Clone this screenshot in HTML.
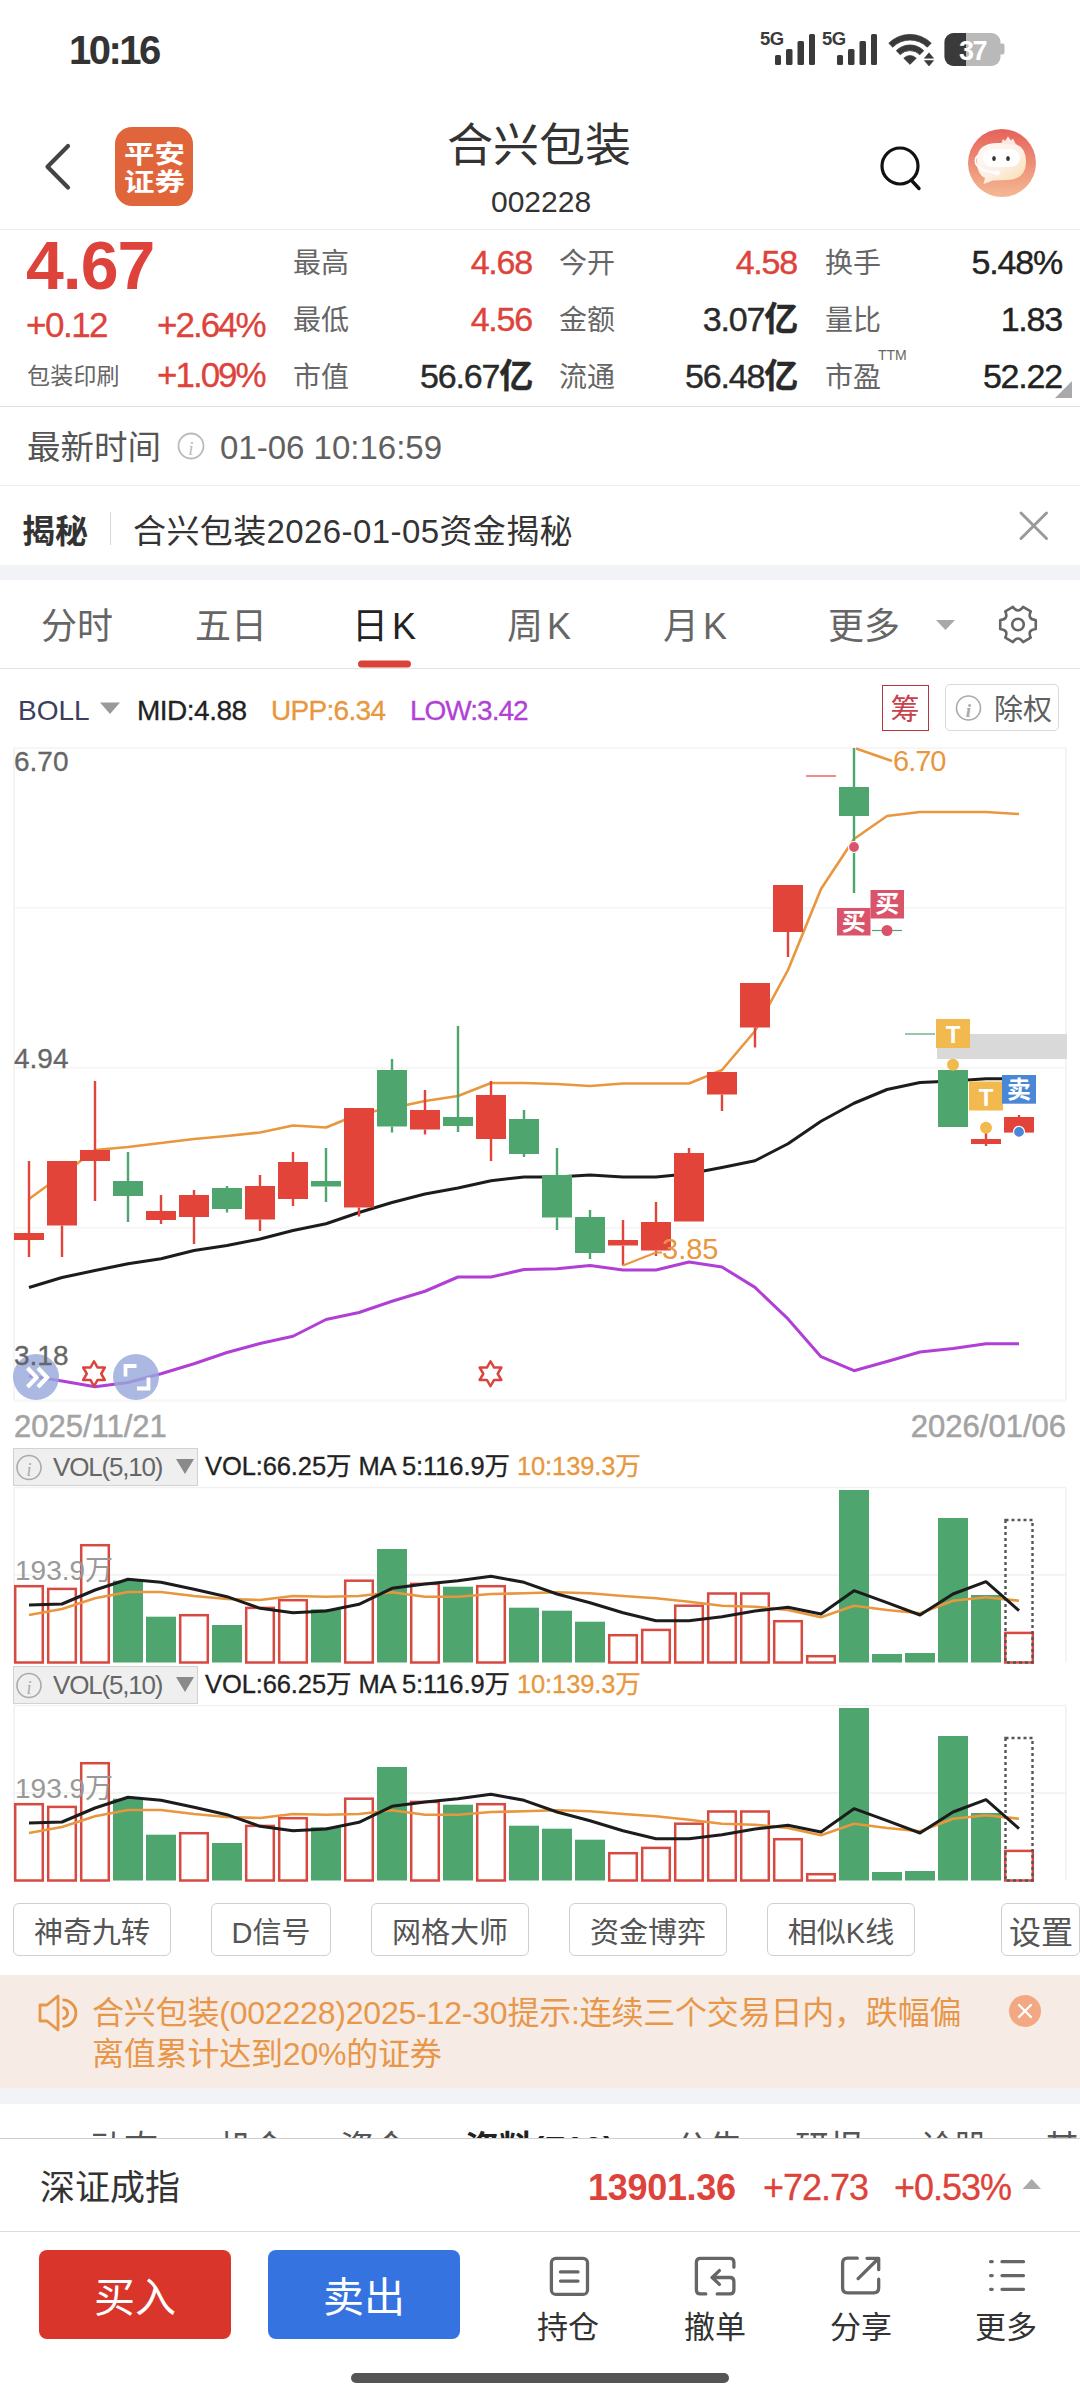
<!DOCTYPE html>
<html><head><meta charset="utf-8">
<style>
*{margin:0;padding:0;box-sizing:border-box}
html,body{width:1080px;height:2400px;overflow:hidden;background:#fff}
body{font-family:"Liberation Sans","Noto Sans CJK SC",sans-serif;color:#333;position:relative}
.t{position:absolute;white-space:nowrap;line-height:1}
.r{color:#de433b}
.g6{color:#666}
.v{letter-spacing:-1.2px;-webkit-text-stroke:0.4px currentColor}
.hl{position:absolute;left:0;width:1080px;height:1.5px;background:#e6e6e6}
svg{position:absolute;left:0;top:0}
.btn{position:absolute;top:1903px;height:53px;border:1.5px solid #cfcfcf;border-radius:6px;font-size:29px;color:#555;display:flex;align-items:center;justify-content:center;background:#fff}
</style></head><body>
<!-- status bar -->
<div class="t" style="left:69px;top:30px;font-size:40px;font-weight:bold;color:#333;letter-spacing:-2.5px">10:16</div>
<svg width="1080" height="100" style="top:0">
 <g fill="#3a3a3a">
  <text x="760" y="44.5" font-size="18.5" font-weight="bold" font-family="Liberation Sans" letter-spacing="-0.5">5G</text>
  <rect x="775" y="55" width="6" height="10" rx="1.5"/><rect x="786" y="49" width="6.5" height="16" rx="1.5"/><rect x="797.5" y="41" width="6.5" height="24" rx="1.5"/><rect x="809" y="34" width="6" height="31" rx="1.5"/>
  <text x="822" y="44.5" font-size="18.5" font-weight="bold" font-family="Liberation Sans" letter-spacing="-0.5">5G</text>
  <rect x="837" y="55" width="6" height="10" rx="1.5"/><rect x="848" y="49" width="6.5" height="16" rx="1.5"/><rect x="859.5" y="41" width="6.5" height="24" rx="1.5"/><rect x="871" y="34" width="6" height="31" rx="1.5"/>
 </g>
 <path d="M888.79,43.19 A30 30 0 0 1 931.21,43.19 L927.25,47.15 A24.4 24.4 0 0 0 892.75,47.15 Z M896.28,50.68 A19.4 19.4 0 0 1 923.72,50.68 L919.76,54.64 A13.8 13.8 0 0 0 900.24,54.64 Z M910,64.4 L903.78,58.18 A8.8 8.8 0 0 1 916.22,58.18 Z" fill="#3a3a3a" stroke="#3a3a3a" stroke-width="0.8" stroke-linejoin="round"/>
 <path d="M929 52.8 L933.6 58.2 L924.4 58.2Z M924.4 60.6 L933.6 60.6 L929 66Z" fill="#3a3a3a" stroke="#3a3a3a" stroke-width="0.6" stroke-linejoin="round"/>
 <rect x="944.5" y="33" width="56" height="33" rx="9" fill="#b9b9b9"/>
 <path d="M953.5 33 H966 V66 H953.5 A9 9 0 0 1 944.5 57 V42 A9 9 0 0 1 953.5 33Z" fill="#3a3a3a"/>
 <rect x="999" y="43.5" width="5.5" height="11" rx="2" fill="#b9b9b9"/>
 <text x="972.5" y="59.5" font-size="27" font-weight="bold" fill="#fff" text-anchor="middle" font-family="Liberation Sans" letter-spacing="-1.5">37</text>
</svg>
<!-- header -->
<svg width="1080" height="240" style="top:0">
 <path d="M68 146 L47.5 166.7 L68 187.5" fill="none" stroke="#444" stroke-width="4.2" stroke-linecap="round" stroke-linejoin="round"/>
 <rect x="115" y="127" width="78" height="79" rx="17" fill="#e0653b"/>
 <circle cx="900" cy="166" r="18" fill="none" stroke="#111" stroke-width="3.2"/>
 <path d="M912.5 181.5 L919 188.5" stroke="#111" stroke-width="3.4" stroke-linecap="round"/>
 <defs><linearGradient id="av" x1="0" y1="0" x2="0" y2="1"><stop offset="0" stop-color="#e6625a"/><stop offset="1" stop-color="#f4b993"/></linearGradient>
 <linearGradient id="face" x1="0" y1="0" x2="0.9" y2="1"><stop offset="0" stop-color="#fffaf6"/><stop offset="0.55" stop-color="#fdf0e6"/><stop offset="1" stop-color="#f8dfae"/></linearGradient></defs>
 <circle cx="1002" cy="163" r="34" fill="url(#av)"/>
 <path d="M977 162 Q976 143 998 143 L1010 143 Q1026 144 1026 162 Q1026 179 1008 180 L993 180.5 L983.5 184 L985 178 Q977 174 977 162Z" fill="url(#face)"/>
 <path d="M1001 144 l2 -5 l2 2 l3 -4.5 l3 4 l2 -2 l3 6z" fill="#fbe8e2"/>
 <rect x="983" y="149" width="37" height="18" rx="9" fill="#fff"/>
 <ellipse cx="994" cy="158.5" rx="1.8" ry="2.6" fill="#333"/><ellipse cx="1008" cy="158.5" rx="1.8" ry="2.6" fill="#333"/>
 <path d="M978.5 155 Q974 158 976 164 Q980 171 996 173" fill="none" stroke="#fff" stroke-width="1.8"/><ellipse cx="997" cy="173" rx="3" ry="2.2" fill="#fff"/>
</svg>
<div class="t" style="left:123.5px;top:139.5px;font-size:25px;font-weight:bold;color:#fff;line-height:28px;transform:scaleX(1.22);transform-origin:0 0">平安<br>证券</div>
<div class="t" style="left:447px;top:122px;font-size:46px;color:#333">合兴包装</div>
<div class="t" style="left:491px;top:187px;font-size:30px;color:#333">002228</div>
<div class="hl" style="top:228.5px;background:#ececec"></div>
<!-- quote -->
<div class="t r" style="left:26px;top:231px;font-size:68px;font-weight:bold;letter-spacing:-1px">4.67</div>
<div class="t r" style="-webkit-text-stroke:0.3px #de433b;left:26px;top:307px;font-size:35px;letter-spacing:-1.5px">+0.12</div>
<div class="t r" style="-webkit-text-stroke:0.3px #de433b;left:157px;top:307px;font-size:35px;letter-spacing:-2px">+2.64%</div>
<div class="t g6" style="left:27px;top:365px;font-size:23px;letter-spacing:0.2px">包装印刷</div>
<div class="t r" style="-webkit-text-stroke:0.3px #de433b;left:157px;top:357px;font-size:35px;letter-spacing:-2px">+1.09%</div>

<div class="t g6" style="left:293px;top:250px;font-size:28px">最高</div>
<div class="t g6" style="left:293px;top:307px;font-size:28px">最低</div>
<div class="t g6" style="left:293px;top:364px;font-size:28px">市值</div>
<div class="t r v" style="right:548px;top:245px;font-size:34px">4.68</div>
<div class="t r v" style="right:548px;top:302px;font-size:34px">4.56</div>
<div class="t v" style="right:548px;top:359px;font-size:34px;color:#2a2a2a">56.67<b>亿</b></div>

<div class="t g6" style="left:559px;top:250px;font-size:28px">今开</div>
<div class="t g6" style="left:559px;top:307px;font-size:28px">金额</div>
<div class="t g6" style="left:559px;top:364px;font-size:28px">流通</div>
<div class="t r v" style="right:283px;top:245px;font-size:34px">4.58</div>
<div class="t v" style="right:283px;top:302px;font-size:34px;color:#2a2a2a">3.07<b>亿</b></div>
<div class="t v" style="right:283px;top:359px;font-size:34px;color:#2a2a2a">56.48<b>亿</b></div>

<div class="t g6" style="left:825px;top:250px;font-size:28px">换手</div>
<div class="t g6" style="left:825px;top:307px;font-size:28px">量比</div>
<div class="t g6" style="left:825px;top:364px;font-size:28px">市盈</div>
<div class="t g6" style="left:878px;top:348px;font-size:14px">TTM</div>
<div class="t v" style="right:18px;top:245px;font-size:34px;color:#222">5.48%</div>
<div class="t v" style="right:18px;top:302px;font-size:34px;color:#222">1.83</div>
<div class="t v" style="right:18px;top:359px;font-size:34px;color:#222">52.22</div>
<svg width="1080" height="410" style="top:0"><path d="M1055 398 L1072 381 L1072 398Z" fill="#a9a9a9"/></svg>
<div class="hl" style="top:405.5px;background:#e0e0e0"></div>

<!-- latest time -->
<div class="t" style="left:27px;top:431px;font-size:33.5px;color:#555">最新时间</div>
<svg width="1080" height="480" style="top:0">
 <circle cx="191" cy="446" r="12.5" fill="none" stroke="#bbb" stroke-width="1.8"/>
 <text x="191" y="455" font-size="19" font-style="italic" fill="#bbb" text-anchor="middle" font-family="Liberation Serif">i</text>
</svg>
<div class="t" style="left:220px;top:431px;font-size:33px;color:#606060;letter-spacing:0px">01-06 10:16:59</div>
<div class="hl" style="top:484.5px;background:#eeeeee"></div>

<!-- jiemi -->
<div class="t" style="left:22px;top:515px;font-size:33px;font-weight:bold;color:#333">揭秘</div>
<div style="position:absolute;left:109.5px;top:512px;width:1.5px;height:33px;background:#d6d6d6"></div>
<div class="t" style="left:133px;top:515px;font-size:33px;color:#333;letter-spacing:0.4px">合兴包装2026-01-05资金揭秘</div>
<svg width="1080" height="560" style="top:0"><path d="M1021 513 L1046.5 538.5 M1046.5 513 L1021 538.5" stroke="#9a9a9a" stroke-width="3" stroke-linecap="round"/></svg>
<div style="position:absolute;left:0;top:565px;width:1080px;height:15px;background:#f2f3f7"></div>

<!-- period tabs -->
<div class="t" style="left:41px;top:609px;font-size:36px;color:#666">分时</div>
<div class="t" style="left:195px;top:609px;font-size:36px;color:#666">五日</div>
<div class="t" style="left:352px;top:609px;font-size:36px;color:#222">日<span style="margin-left:4px">K</span></div>
<div class="t" style="left:507px;top:609px;font-size:36px;color:#666">周<span style="margin-left:4px">K</span></div>
<div class="t" style="left:663px;top:609px;font-size:36px;color:#666">月<span style="margin-left:4px">K</span></div>
<div class="t" style="left:828px;top:609px;font-size:36px;color:#666">更多</div>
<svg width="1080" height="680" style="top:0">
 <path d="M936 620 L955 620 L945.5 630Z" fill="#a8a8a8"/>
 <rect x="358" y="660.5" width="53" height="7" rx="3.5" fill="#d9433a"/>
 <g fill="none" stroke="#666" stroke-width="2.6" stroke-linejoin="round"><path d="M1023.04,606.91 L1030.71,611.34 Q1027.09,619.25 1035.76,620.07 L1035.76,620.07 L1035.76,628.93 Q1027.09,629.75 1030.71,637.66 L1030.71,637.66 L1023.04,642.09 Q1018.00,635.00 1012.96,642.09 L1012.96,642.09 L1005.29,637.66 Q1008.91,629.75 1000.24,628.93 L1000.24,628.93 L1000.24,620.07 Q1008.91,619.25 1005.29,611.34 L1005.29,611.34 L1012.96,606.91 Q1018.00,614.00 1023.04,606.91 Z"/><circle cx="1018" cy="624.5" r="5.8"/></g>
</svg>
<div class="hl" style="top:667.5px;background:#e2e2e2"></div>

<!-- BOLL header -->
<div class="t" style="left:18px;top:697px;font-size:28px;color:#3d3d5c">BOLL</div>
<svg width="1080" height="740" style="top:0"><path d="M100 702.5 L120 702.5 L110 714Z" fill="#9a9a9a"/></svg>
<div class="t" style="left:137px;top:697px;font-size:28px;color:#222;letter-spacing:-0.5px;-webkit-text-stroke:0.3px currentColor">MID:4.88</div>
<div class="t" style="left:271px;top:697px;font-size:28px;color:#e8973e;letter-spacing:-0.7px;-webkit-text-stroke:0.3px currentColor">UPP:6.34</div>
<div class="t" style="left:410px;top:697px;font-size:28px;color:#b23fd6;letter-spacing:-1px;-webkit-text-stroke:0.3px currentColor">LOW:3.42</div>
<div style="position:absolute;left:881.5px;top:685px;width:47.5px;height:46px;border:1.5px solid #b8343f"></div>
<div class="t" style="left:890.5px;top:696px;font-size:29px;color:#c8404a">筹</div>
<div style="position:absolute;left:945px;top:684px;width:113.5px;height:47px;border:1.5px solid #dadada;border-radius:5px"></div>
<svg width="1080" height="740" style="top:0">
 <circle cx="968.5" cy="708" r="12" fill="none" stroke="#aaa" stroke-width="1.6"/>
 <text x="968.5" y="716.5" font-size="19" font-style="italic" font-weight="bold" fill="#aaa" text-anchor="middle" font-family="Liberation Serif">i</text>
</svg>
<div class="t" style="left:994px;top:696px;font-size:29px;color:#606060">除权</div>
<svg width="1080" height="2400" style="top:0">
<line x1="14" y1="748" x2="1066" y2="748" stroke="#f6f6f6" stroke-width="2"/>
<line x1="14" y1="907.8" x2="1066" y2="907.8" stroke="#f6f6f6" stroke-width="2"/>
<line x1="14" y1="1067.8" x2="1066" y2="1067.8" stroke="#f6f6f6" stroke-width="2"/>
<line x1="14" y1="1227.8" x2="1066" y2="1227.8" stroke="#f6f6f6" stroke-width="2"/>
<line x1="14" y1="1400.5" x2="1066" y2="1400.5" stroke="#f6f6f6" stroke-width="2"/>
<line x1="14" y1="748" x2="14" y2="1400" stroke="#f1f1f1" stroke-width="1.5"/>
<line x1="1066" y1="748" x2="1066" y2="1400" stroke="#f1f1f1" stroke-width="1.5"/>
<rect x="937" y="1034" width="130" height="25" fill="#d9d9d9"/>
<polyline points="29,1199 62,1175 95,1150 128,1147 161,1143 194,1139 227,1136 260,1132.5 293,1125.5 326,1127.5 359,1114 392,1108 425,1101 458,1096 491,1083 524,1083 557,1084 590,1086 623,1083.5 656,1083.5 689,1083.5 722,1070 755,1031 788,970 821,889 854,839 887,816 920,812 953,812 986,812 1019,814" fill="none" stroke="#e8973e" stroke-width="2.6" stroke-linejoin="round"/>
<polyline points="29,1287.5 62,1277.5 95,1270.5 128,1263.75 161,1258.75 194,1250.5 227,1245.5 260,1239 293,1230.5 326,1223.75 359,1212.5 392,1202.5 425,1194 458,1188 491,1180.75 524,1177 557,1177 590,1175 623,1177 656,1177 689,1173.75 722,1167.5 755,1160.75 788,1143.75 821,1121.25 854,1103.25 887,1089.5 920,1082.5 953,1081 986,1078.7 1019,1078.7" fill="none" stroke="#1c1c1c" stroke-width="3" stroke-linejoin="round"/>
<polyline points="29,1376 62,1381 95,1386.75 128,1382.5 161,1373.75 194,1363.75 227,1352.5 260,1343.5 293,1336.25 326,1319.5 359,1312.5 392,1301.25 425,1291.25 458,1277 491,1277 524,1269.5 557,1268.75 590,1265.5 623,1270 656,1270 689,1262 722,1267 755,1287.4 788,1318.9 821,1356.7 854,1370.7 887,1361.5 920,1352 953,1348.5 986,1343.7 1019,1343.7" fill="none" stroke="#b13fd6" stroke-width="3" stroke-linejoin="round"/>
<rect x="27.8" y="1161" width="2.4" height="72" fill="#e2443a"/>
<rect x="27.8" y="1240" width="2.4" height="17" fill="#e2443a"/>
<rect x="14" y="1233" width="30" height="7" fill="#e2443a"/>
<rect x="60.8" y="1225.5" width="2.4" height="31.5" fill="#e2443a"/>
<rect x="47" y="1161" width="30" height="64.5" fill="#e2443a"/>
<rect x="93.8" y="1081" width="2.4" height="69" fill="#e2443a"/>
<rect x="93.8" y="1161" width="2.4" height="40" fill="#e2443a"/>
<rect x="80" y="1150" width="30" height="11" fill="#e2443a"/>
<rect x="126.8" y="1152" width="2.4" height="29" fill="#4ea56e"/>
<rect x="126.8" y="1196" width="2.4" height="26" fill="#4ea56e"/>
<rect x="113" y="1181" width="30" height="15" fill="#4ea56e"/>
<rect x="159.8" y="1195" width="2.4" height="16" fill="#e2443a"/>
<rect x="159.8" y="1220" width="2.4" height="4" fill="#e2443a"/>
<rect x="146" y="1211" width="30" height="9" fill="#e2443a"/>
<rect x="192.8" y="1190" width="2.4" height="5" fill="#e2443a"/>
<rect x="192.8" y="1217" width="2.4" height="27" fill="#e2443a"/>
<rect x="179" y="1195" width="30" height="22" fill="#e2443a"/>
<rect x="225.8" y="1186" width="2.4" height="2" fill="#4ea56e"/>
<rect x="225.8" y="1209" width="2.4" height="3.5" fill="#4ea56e"/>
<rect x="212" y="1188" width="30" height="21" fill="#4ea56e"/>
<rect x="258.8" y="1175" width="2.4" height="11" fill="#e2443a"/>
<rect x="258.8" y="1219.5" width="2.4" height="11.5" fill="#e2443a"/>
<rect x="245" y="1186" width="30" height="33.5" fill="#e2443a"/>
<rect x="291.8" y="1152" width="2.4" height="10" fill="#e2443a"/>
<rect x="291.8" y="1199" width="2.4" height="7" fill="#e2443a"/>
<rect x="278" y="1162" width="30" height="37" fill="#e2443a"/>
<rect x="324.8" y="1148" width="2.4" height="33" fill="#4ea56e"/>
<rect x="324.8" y="1186.5" width="2.4" height="15.5" fill="#4ea56e"/>
<rect x="311" y="1181" width="30" height="5.5" fill="#4ea56e"/>
<rect x="357.8" y="1207.5" width="2.4" height="9.0" fill="#e2443a"/>
<rect x="344" y="1108" width="30" height="99.5" fill="#e2443a"/>
<rect x="390.8" y="1059" width="2.4" height="11" fill="#4ea56e"/>
<rect x="390.8" y="1126.5" width="2.4" height="6.0" fill="#4ea56e"/>
<rect x="377" y="1070" width="30" height="56.5" fill="#4ea56e"/>
<rect x="423.8" y="1090" width="2.4" height="20" fill="#e2443a"/>
<rect x="423.8" y="1129.5" width="2.4" height="5.0" fill="#e2443a"/>
<rect x="410" y="1110" width="30" height="19.5" fill="#e2443a"/>
<rect x="456.8" y="1026" width="2.4" height="91" fill="#4ea56e"/>
<rect x="456.8" y="1126" width="2.4" height="6" fill="#4ea56e"/>
<rect x="443" y="1117" width="30" height="9" fill="#4ea56e"/>
<rect x="489.8" y="1081" width="2.4" height="14" fill="#e2443a"/>
<rect x="489.8" y="1139" width="2.4" height="22" fill="#e2443a"/>
<rect x="476" y="1095" width="30" height="44" fill="#e2443a"/>
<rect x="522.8" y="1110" width="2.4" height="9" fill="#4ea56e"/>
<rect x="522.8" y="1154" width="2.4" height="3" fill="#4ea56e"/>
<rect x="509" y="1119" width="30" height="35" fill="#4ea56e"/>
<rect x="555.8" y="1148" width="2.4" height="27" fill="#4ea56e"/>
<rect x="555.8" y="1217.5" width="2.4" height="12.5" fill="#4ea56e"/>
<rect x="542" y="1175" width="30" height="42.5" fill="#4ea56e"/>
<rect x="588.8" y="1210" width="2.4" height="7" fill="#4ea56e"/>
<rect x="588.8" y="1253" width="2.4" height="6" fill="#4ea56e"/>
<rect x="575" y="1217" width="30" height="36" fill="#4ea56e"/>
<rect x="621.8" y="1220" width="2.4" height="20" fill="#e2443a"/>
<rect x="621.8" y="1245.5" width="2.4" height="20.0" fill="#e2443a"/>
<rect x="608" y="1240" width="30" height="5.5" fill="#e2443a"/>
<rect x="654.8" y="1202" width="2.4" height="20" fill="#e2443a"/>
<rect x="654.8" y="1250.5" width="2.4" height="5.5" fill="#e2443a"/>
<rect x="641" y="1222" width="30" height="28.5" fill="#e2443a"/>
<rect x="687.8" y="1148" width="2.4" height="5" fill="#e2443a"/>
<rect x="674" y="1153" width="30" height="68.5" fill="#e2443a"/>
<rect x="720.8" y="1094.5" width="2.4" height="16.5" fill="#e2443a"/>
<rect x="707" y="1072" width="30" height="22.5" fill="#e2443a"/>
<rect x="753.8" y="1027.5" width="2.4" height="20.0" fill="#e2443a"/>
<rect x="740" y="983" width="30" height="44.5" fill="#e2443a"/>
<rect x="786.8" y="932" width="2.4" height="25" fill="#e2443a"/>
<rect x="773" y="885" width="30" height="47" fill="#e2443a"/>
<rect x="806" y="775.4" width="30" height="1.2" fill="#e2443a"/>
<rect x="852.8" y="748" width="2.4" height="39" fill="#4ea56e"/>
<rect x="852.8" y="816" width="2.4" height="77" fill="#4ea56e"/>
<rect x="839" y="787" width="30" height="29" fill="#4ea56e"/>
<rect x="872" y="929.9" width="30" height="1.2" fill="#4ea56e"/>
<rect x="905" y="1033.4" width="30" height="1.2" fill="#4ea56e"/>
<rect x="938" y="1070" width="30" height="57" fill="#4ea56e"/>
<rect x="984.8" y="1130" width="2.4" height="9" fill="#e2443a"/>
<rect x="984.8" y="1144" width="2.4" height="2" fill="#e2443a"/>
<rect x="971" y="1139" width="30" height="5" fill="#e2443a"/>
<rect x="1017.8" y="1115" width="2.4" height="2" fill="#e2443a"/>
<rect x="1004" y="1117" width="30" height="15.599999999999909" fill="#e2443a"/>
<line x1="14" y1="1487.5" x2="1066" y2="1487.5" stroke="#f1f1f1" stroke-width="1.5"/>
<line x1="14" y1="1575" x2="1066" y2="1575" stroke="#f1f1f1" stroke-width="1.5"/>
<line x1="14" y1="1487.5" x2="14" y2="1662.5" stroke="#f1f1f1" stroke-width="1.5"/>
<line x1="1066" y1="1487.5" x2="1066" y2="1662.5" stroke="#f1f1f1" stroke-width="1.5"/>
<rect x="15.2" y="1586.2" width="27.6" height="76.3" fill="none" stroke="#d64a42" stroke-width="2.5"/>
<rect x="48.2" y="1588.9" width="27.6" height="73.59999999999995" fill="none" stroke="#d64a42" stroke-width="2.5"/>
<rect x="81.2" y="1545.2" width="27.6" height="117.3" fill="none" stroke="#d64a42" stroke-width="2.5"/>
<rect x="113" y="1580.7" width="30" height="81.79999999999995" fill="#4ea56e"/>
<rect x="146" y="1616.7" width="30" height="45.799999999999955" fill="#4ea56e"/>
<rect x="180.2" y="1615.2" width="27.6" height="47.3" fill="none" stroke="#d64a42" stroke-width="2.5"/>
<rect x="212" y="1625" width="30" height="37.5" fill="#4ea56e"/>
<rect x="246.2" y="1607.9" width="27.6" height="54.59999999999995" fill="none" stroke="#d64a42" stroke-width="2.5"/>
<rect x="279.2" y="1600.2" width="27.6" height="62.3" fill="none" stroke="#d64a42" stroke-width="2.5"/>
<rect x="311" y="1609.3" width="30" height="53.200000000000045" fill="#4ea56e"/>
<rect x="345.2" y="1580.7" width="27.6" height="81.8" fill="none" stroke="#d64a42" stroke-width="2.5"/>
<rect x="377" y="1549" width="30" height="113.5" fill="#4ea56e"/>
<rect x="411.2" y="1583.9" width="27.6" height="78.59999999999995" fill="none" stroke="#d64a42" stroke-width="2.5"/>
<rect x="443" y="1586.7" width="30" height="75.79999999999995" fill="#4ea56e"/>
<rect x="477.2" y="1586.2" width="27.6" height="76.3" fill="none" stroke="#d64a42" stroke-width="2.5"/>
<rect x="509" y="1607.7" width="30" height="54.799999999999955" fill="#4ea56e"/>
<rect x="542" y="1610.7" width="30" height="51.799999999999955" fill="#4ea56e"/>
<rect x="575" y="1621.7" width="30" height="40.799999999999955" fill="#4ea56e"/>
<rect x="609.2" y="1635.2" width="27.6" height="27.3" fill="none" stroke="#d64a42" stroke-width="2.5"/>
<rect x="642.2" y="1629.9" width="27.6" height="32.59999999999995" fill="none" stroke="#d64a42" stroke-width="2.5"/>
<rect x="675.2" y="1605.7" width="27.6" height="56.8" fill="none" stroke="#d64a42" stroke-width="2.5"/>
<rect x="708.2" y="1593.5" width="27.6" height="69.00000000000004" fill="none" stroke="#d64a42" stroke-width="2.5"/>
<rect x="741.2" y="1593.5" width="27.6" height="69.00000000000004" fill="none" stroke="#d64a42" stroke-width="2.5"/>
<rect x="774.2" y="1621.2" width="27.6" height="41.3" fill="none" stroke="#d64a42" stroke-width="2.5"/>
<rect x="807.2" y="1656.2" width="27.6" height="6.3" fill="none" stroke="#d64a42" stroke-width="2.5"/>
<rect x="839" y="1490" width="30" height="172.5" fill="#4ea56e"/>
<rect x="872" y="1654" width="30" height="8.5" fill="#4ea56e"/>
<rect x="905" y="1653" width="30" height="9.5" fill="#4ea56e"/>
<rect x="938" y="1518" width="30" height="144.5" fill="#4ea56e"/>
<rect x="971" y="1595" width="30" height="67.5" fill="#4ea56e"/>
<rect x="1005.2" y="1632.9" width="27.6" height="29.599999999999955" fill="none" stroke="#d64a42" stroke-width="2.5"/>
<rect x="1005.5" y="1520" width="27" height="142.5" fill="none" stroke="#555" stroke-width="2.4" stroke-dasharray="3 3"/>
<polyline points="29,1615 62,1609 95,1598.3 128,1592 161,1592 194,1596 227,1599 260,1600 293,1596 326,1596.7 359,1596 392,1592.3 425,1596.7 458,1596.7 491,1594 524,1593.3 557,1592.3 590,1593.3 623,1596 656,1598.3 689,1601.7 722,1605.7 755,1606.7 788,1610 821,1617.3 854,1605.7 887,1610 920,1613.3 953,1600.7 986,1597.3 1019,1600.7" fill="none" stroke="#e8973e" stroke-width="2.6" stroke-linejoin="round"/>
<polyline points="29,1605 62,1604 95,1590 128,1579.3 161,1582.3 194,1589.3 227,1596.7 260,1608.3 293,1612.7 326,1611 359,1604.3 392,1588.3 425,1584 458,1580.7 491,1576.3 524,1582.3 557,1594 590,1602.7 623,1612.7 656,1620.7 689,1620.7 722,1616.7 755,1611 788,1607.3 821,1614 854,1590.7 887,1602.7 920,1615 953,1594 986,1581.7 1019,1610.7" fill="none" stroke="#1c1c1c" stroke-width="3" stroke-linejoin="round"/>
<line x1="14" y1="1705.5" x2="1066" y2="1705.5" stroke="#f1f1f1" stroke-width="1.5"/>
<line x1="14" y1="1793" x2="1066" y2="1793" stroke="#f1f1f1" stroke-width="1.5"/>
<line x1="14" y1="1705.5" x2="14" y2="1880.5" stroke="#f1f1f1" stroke-width="1.5"/>
<line x1="1066" y1="1705.5" x2="1066" y2="1880.5" stroke="#f1f1f1" stroke-width="1.5"/>
<rect x="15.2" y="1804.2" width="27.6" height="76.3" fill="none" stroke="#d64a42" stroke-width="2.5"/>
<rect x="48.2" y="1806.9" width="27.6" height="73.59999999999995" fill="none" stroke="#d64a42" stroke-width="2.5"/>
<rect x="81.2" y="1763.2" width="27.6" height="117.3" fill="none" stroke="#d64a42" stroke-width="2.5"/>
<rect x="113" y="1798.7" width="30" height="81.79999999999995" fill="#4ea56e"/>
<rect x="146" y="1834.7" width="30" height="45.799999999999955" fill="#4ea56e"/>
<rect x="180.2" y="1833.2" width="27.6" height="47.3" fill="none" stroke="#d64a42" stroke-width="2.5"/>
<rect x="212" y="1843" width="30" height="37.5" fill="#4ea56e"/>
<rect x="246.2" y="1825.9" width="27.6" height="54.59999999999995" fill="none" stroke="#d64a42" stroke-width="2.5"/>
<rect x="279.2" y="1818.2" width="27.6" height="62.3" fill="none" stroke="#d64a42" stroke-width="2.5"/>
<rect x="311" y="1827.3" width="30" height="53.200000000000045" fill="#4ea56e"/>
<rect x="345.2" y="1798.7" width="27.6" height="81.8" fill="none" stroke="#d64a42" stroke-width="2.5"/>
<rect x="377" y="1767" width="30" height="113.5" fill="#4ea56e"/>
<rect x="411.2" y="1801.9" width="27.6" height="78.59999999999995" fill="none" stroke="#d64a42" stroke-width="2.5"/>
<rect x="443" y="1804.7" width="30" height="75.79999999999995" fill="#4ea56e"/>
<rect x="477.2" y="1804.2" width="27.6" height="76.3" fill="none" stroke="#d64a42" stroke-width="2.5"/>
<rect x="509" y="1825.7" width="30" height="54.799999999999955" fill="#4ea56e"/>
<rect x="542" y="1828.7" width="30" height="51.799999999999955" fill="#4ea56e"/>
<rect x="575" y="1839.7" width="30" height="40.799999999999955" fill="#4ea56e"/>
<rect x="609.2" y="1853.2" width="27.6" height="27.3" fill="none" stroke="#d64a42" stroke-width="2.5"/>
<rect x="642.2" y="1847.9" width="27.6" height="32.59999999999995" fill="none" stroke="#d64a42" stroke-width="2.5"/>
<rect x="675.2" y="1823.7" width="27.6" height="56.8" fill="none" stroke="#d64a42" stroke-width="2.5"/>
<rect x="708.2" y="1811.5" width="27.6" height="69.00000000000004" fill="none" stroke="#d64a42" stroke-width="2.5"/>
<rect x="741.2" y="1811.5" width="27.6" height="69.00000000000004" fill="none" stroke="#d64a42" stroke-width="2.5"/>
<rect x="774.2" y="1839.2" width="27.6" height="41.3" fill="none" stroke="#d64a42" stroke-width="2.5"/>
<rect x="807.2" y="1874.2" width="27.6" height="6.3" fill="none" stroke="#d64a42" stroke-width="2.5"/>
<rect x="839" y="1708" width="30" height="172.5" fill="#4ea56e"/>
<rect x="872" y="1872" width="30" height="8.5" fill="#4ea56e"/>
<rect x="905" y="1871" width="30" height="9.5" fill="#4ea56e"/>
<rect x="938" y="1736" width="30" height="144.5" fill="#4ea56e"/>
<rect x="971" y="1813" width="30" height="67.5" fill="#4ea56e"/>
<rect x="1005.2" y="1850.9" width="27.6" height="29.599999999999955" fill="none" stroke="#d64a42" stroke-width="2.5"/>
<rect x="1005.5" y="1738" width="27" height="142.5" fill="none" stroke="#555" stroke-width="2.4" stroke-dasharray="3 3"/>
<polyline points="29,1833 62,1827 95,1816.3 128,1810 161,1810 194,1814 227,1817 260,1818 293,1814 326,1814.7 359,1814 392,1810.3 425,1814.7 458,1814.7 491,1812 524,1811.3 557,1810.3 590,1811.3 623,1814 656,1816.3 689,1819.7 722,1823.7 755,1824.7 788,1828 821,1835.3 854,1823.7 887,1828 920,1831.3 953,1818.7 986,1815.3 1019,1818.7" fill="none" stroke="#e8973e" stroke-width="2.6" stroke-linejoin="round"/>
<polyline points="29,1823 62,1822 95,1808 128,1797.3 161,1800.3 194,1807.3 227,1814.7 260,1826.3 293,1830.7 326,1829 359,1822.3 392,1806.3 425,1802 458,1798.7 491,1794.3 524,1800.3 557,1812 590,1820.7 623,1830.7 656,1838.7 689,1838.7 722,1834.7 755,1829 788,1825.3 821,1832 854,1808.7 887,1820.7 920,1833 953,1812 986,1799.7 1019,1828.7" fill="none" stroke="#1c1c1c" stroke-width="3" stroke-linejoin="round"/>
<!-- 6.70 label line -->
<path d="M856 748.5 L892 761" stroke="#e8973e" stroke-width="2.6" fill="none"/>
<text x="893" y="771" font-size="29" fill="#e8973e" font-family="Liberation Sans" letter-spacing="-1">6.70</text>
<!-- 3.85 label -->
<path d="M623 1265.5 L656 1252.5 L662 1252.5" stroke="#e8973e" stroke-width="2" fill="none"/>
<text x="662" y="1259" font-size="29" fill="#e8973e" font-family="Liberation Sans">3.85</text>
<!-- buy labels -->
<circle cx="854" cy="847" r="5.5" fill="#d9546a" stroke="#fff" stroke-width="1.2"/>
<rect x="837" y="908" width="33.5" height="27.5" fill="#d9546a"/>
<rect x="870.5" y="890" width="33.5" height="28.5" fill="#d9546a"/>
<text x="853.7" y="930" font-size="24" fill="#fff" text-anchor="middle" font-family="Noto Sans CJK SC" font-weight="bold">买</text>
<text x="887.2" y="912" font-size="24" fill="#fff" text-anchor="middle" font-family="Noto Sans CJK SC" font-weight="bold">买</text>
<circle cx="887" cy="930.5" r="5.5" fill="#d9546a"/>
<!-- T / sell labels -->
<rect x="936" y="1019" width="34" height="29" fill="#f2b94f"/>
<text x="953" y="1043" font-size="24" fill="#fff" text-anchor="middle" font-family="Liberation Sans" font-weight="bold">T</text>
<circle cx="953" cy="1064.8" r="6" fill="#f2b94f"/>
<rect x="969" y="1081.5" width="34" height="29" fill="#f2b94f"/>
<text x="986" y="1105.5" font-size="24" fill="#fff" text-anchor="middle" font-family="Liberation Sans" font-weight="bold">T</text>
<rect x="1002" y="1075" width="34" height="28.7" fill="#4a87d6"/>
<text x="1019" y="1098" font-size="24" fill="#fff" text-anchor="middle" font-family="Noto Sans CJK SC" font-weight="bold">卖</text>
<circle cx="986" cy="1127.8" r="6" fill="#f2b94f"/>
<circle cx="1019" cy="1131.9" r="5.5" fill="#4a87d6" stroke="#fff" stroke-width="1.2"/>
<!-- stars -->
<polygon points="94.00,1361.25 97.60,1367.51 104.83,1367.50 101.20,1373.75 104.83,1380.00 97.60,1379.99 94.00,1386.25 90.40,1379.99 83.17,1380.00 86.80,1373.75 83.17,1367.50 90.40,1367.51" fill="none" stroke="#d9453e" stroke-width="2.5" stroke-linejoin="round"/>
<polygon points="490.50,1361.25 494.10,1367.51 501.33,1367.50 497.70,1373.75 501.33,1380.00 494.10,1379.99 490.50,1386.25 486.90,1379.99 479.67,1380.00 483.30,1373.75 479.67,1367.50 486.90,1367.51" fill="none" stroke="#d9453e" stroke-width="2.5" stroke-linejoin="round"/>
<!-- circle buttons -->
<circle cx="36" cy="1377" r="23" fill="#98a8da" fill-opacity="0.82"/>
<path d="M27.5 1368 L36.5 1377.5 L27.5 1387 M38 1368 L47 1377.5 L38 1387" fill="none" stroke="#fff" stroke-width="4.2"/>
<circle cx="136" cy="1377" r="23" fill="#98a8da" fill-opacity="0.82"/>
<path d="M125.5 1376.5 L125.5 1366 L136.5 1366 M148.5 1377.5 L148.5 1388.5 L137 1388.5" fill="none" stroke="#fff" stroke-width="3.8"/>

</svg>
<!-- chart labels -->
<div class="t" style="left:14px;top:748px;font-size:28px;color:#666;-webkit-text-stroke:0.3px #666">6.70</div>
<div class="t" style="left:14px;top:1045px;font-size:28px;color:#666;-webkit-text-stroke:0.3px #666">4.94</div>
<div class="t" style="left:14px;top:1342px;font-size:28px;color:#666;-webkit-text-stroke:0.3px #666">3.18</div>
<div class="t" style="left:14px;top:1411px;font-size:31px;color:#a3a3a3;-webkit-text-stroke:0.5px #a3a3a3">2025/11/21</div>
<div class="t" style="right:14px;top:1411px;font-size:31px;color:#a3a3a3;-webkit-text-stroke:0.5px #a3a3a3">2026/01/06</div>
<div style="position:absolute;left:13px;top:1448px;width:184.5px;height:38px;background:#efefef;border:1.5px solid #d2d2d2"></div>
<svg width="1080" height="40" style="top:1448px">
 <circle cx="29" cy="19.5" r="12" fill="none" stroke="#aaa" stroke-width="1.6"/>
 <text x="29" y="28" font-size="18" font-style="italic" fill="#aaa" text-anchor="middle" font-family="Liberation Serif">i</text>
 <path d="M176 11 L194 11 L185 26Z" fill="#8a8a8a"/>
</svg>
<div class="t" style="left:53px;top:1454px;font-size:26px;color:#666;letter-spacing:-1.2px">VOL(5,10)</div>
<div class="t" style="left:205px;top:1454px;font-size:25.5px;color:#222;letter-spacing:-0.1px;-webkit-text-stroke:0.3px currentColor">VOL:66.25万 MA 5:116.9万 <span style="color:#e8973e">10:139.3万</span></div>
<div class="t" style="left:15px;top:1557px;font-size:28px;color:#999">193.9万</div>
<div style="position:absolute;left:13px;top:1666px;width:184.5px;height:38px;background:#efefef;border:1.5px solid #d2d2d2"></div>
<svg width="1080" height="40" style="top:1666px">
 <circle cx="29" cy="19.5" r="12" fill="none" stroke="#aaa" stroke-width="1.6"/>
 <text x="29" y="28" font-size="18" font-style="italic" fill="#aaa" text-anchor="middle" font-family="Liberation Serif">i</text>
 <path d="M176 11 L194 11 L185 26Z" fill="#8a8a8a"/>
</svg>
<div class="t" style="left:53px;top:1672px;font-size:26px;color:#666;letter-spacing:-1.2px">VOL(5,10)</div>
<div class="t" style="left:205px;top:1672px;font-size:25.5px;color:#222;letter-spacing:-0.1px;-webkit-text-stroke:0.3px currentColor">VOL:66.25万 MA 5:116.9万 <span style="color:#e8973e">10:139.3万</span></div>
<div class="t" style="left:15px;top:1775px;font-size:28px;color:#999">193.9万</div>
<!-- tool buttons -->
<div class="btn" style="left:13px;width:158px">神奇九转</div>
<div class="btn" style="left:211px;width:120px">D信号</div>
<div class="btn" style="left:371px;width:158px">网格大师</div>
<div class="btn" style="left:569px;width:158px">资金博弈</div>
<div class="btn" style="left:767px;width:148px">相似K线</div>
<div class="btn" style="left:1001px;width:79px;justify-content:flex-start;padding-left:7px;font-size:32px">设置</div>

<!-- notice -->
<div style="position:absolute;left:0;top:1975px;width:1080px;height:113px;background:#f6ece5"></div>
<svg width="1080" height="2100" style="top:0">
 <path d="M40 2005 L47 2005 L58 1996 L58 2030 L47 2021 L40 2021Z" fill="none" stroke="#e8974a" stroke-width="2.8" stroke-linejoin="round"/>
 <path d="M63.6 2007.6 A5.8 5.8 0 0 1 63.6 2018.6" fill="none" stroke="#e39445" stroke-width="2.8" stroke-linecap="round"/>
 <path d="M62.6 1999.8 A13.3 13.3 0 0 1 62.6 2026.4" fill="none" stroke="#e39445" stroke-width="2.8" stroke-linecap="butt"/>
 <circle cx="1025" cy="2011" r="16" fill="#f2a882"/>
 <path d="M1019 2005 L1031 2017 M1031 2005 L1019 2017" stroke="#fff" stroke-width="2.4" stroke-linecap="round"/>
</svg>
<div class="t" style="left:92px;top:1993px;font-size:32px;color:#e8974a;line-height:41px;letter-spacing:-0.2px">合兴包装(002228)2025-12-30提示:连续三个交易日内，跌幅偏<br>离值累计达到20%的证券</div>
<div style="position:absolute;left:0;top:2088px;width:1080px;height:16px;background:#f2f3f6"></div>

<!-- hidden tabs -->
<div style="position:absolute;left:0;top:2104px;width:1080px;height:34px;overflow:hidden">
 <div class="t" style="left:0;top:27px;font-size:34px;color:#555;word-spacing:0">
  <span style="position:absolute;left:22px">●</span><span style="position:absolute;left:90px">动态</span><span style="position:absolute;left:218px">机会</span><span style="position:absolute;left:340px">资金</span><span style="position:absolute;left:465px;color:#222;font-weight:bold">资料(F10)</span><span style="position:absolute;left:675px">公告</span><span style="position:absolute;left:795px">研报</span><span style="position:absolute;left:920px">诊股</span><span style="position:absolute;left:1045px">其他</span>
 </div>
</div>
<div class="hl" style="top:2137.5px;background:#cfcfcf"></div>

<!-- index bar -->
<div class="t" style="left:40px;top:2170px;font-size:35px;color:#333">深证成指</div>
<div class="t r" style="left:588px;top:2170px;font-size:36px;font-weight:bold;letter-spacing:-0.3px">13901.36</div>
<div class="t r" style="left:763px;top:2170px;font-size:36px;letter-spacing:-1px;-webkit-text-stroke:0.3px #de433b">+72.73</div>
<div class="t r" style="left:894px;top:2170px;font-size:36px;letter-spacing:-1px;-webkit-text-stroke:0.3px #de433b">+0.53%</div>
<svg width="1080" height="2200" style="top:0"><path d="M1022.5 2189 L1041 2189 L1031.75 2179Z" fill="#aaa"/></svg>
<div class="hl" style="top:2230.5px;background:#dcdcdc"></div>

<!-- bottom nav -->
<div style="position:absolute;left:39px;top:2250px;width:192px;height:89px;background:#d9352a;border-radius:8px"></div>
<div style="position:absolute;left:268px;top:2250px;width:192px;height:89px;background:#3473e0;border-radius:8px"></div>
<div class="t" style="left:94px;top:2278px;font-size:41px;color:#fff">买入</div>
<div class="t" style="left:323px;top:2278px;font-size:41px;color:#fff">卖出</div>
<svg width="1080" height="2400" style="top:0">
 <g fill="none" stroke="#666" stroke-width="3.3" stroke-linecap="round" stroke-linejoin="round">
  <rect x="551.4" y="2258.3" width="36.1" height="36.1" rx="4.5"/>
  <path d="M560.5 2271.9 H578 M560.5 2281.1 H578"/>
  <path d="M733.9 2267.2 V2262.3 Q733.9 2258.3 729.9 2258.3 H700.4 Q696.4 2258.3 696.4 2262.3 V2289.9 Q696.4 2293.9 700.4 2293.9 H705.8"/>
  <path d="M717.2 2293.9 H729.9 Q733.9 2293.9 733.9 2289.9 V2281.5 Q733.9 2277.5 729.9 2277.5 H712.2"/>
  <path d="M719.4 2270.6 L712.2 2277.5 L719.4 2284.4"/>
  <path d="M857.3 2258.2 H847.6 Q842.6 2258.2 842.6 2263.2 V2287.8 Q842.6 2292.8 847.6 2292.8 H873.7 Q878.7 2292.8 878.7 2287.8 V2279.2"/>
  <path d="M858.1 2278.6 L878.2 2258.8 M867 2258.3 H878.7 V2269.7"/>
  <path d="M1002 2261.7 H1023.5 M1002 2275.6 H1023.5 M1002 2289.3 H1023.5"/>
  <path d="M990.6 2261.7 H992.2 M990.6 2275.6 H992.2 M990.6 2289.3 H992.2"/>
 </g>
</svg>
<div class="t" style="left:537px;top:2312px;font-size:31px;color:#333">持仓</div>
<div class="t" style="left:684px;top:2312px;font-size:31px;color:#333">撤单</div>
<div class="t" style="left:830px;top:2312px;font-size:31px;color:#333">分享</div>
<div class="t" style="left:975px;top:2312px;font-size:31px;color:#333">更多</div>
<div style="position:absolute;left:351px;top:2372.5px;width:378px;height:10px;background:#555;border-radius:5px"></div>
</body></html>
